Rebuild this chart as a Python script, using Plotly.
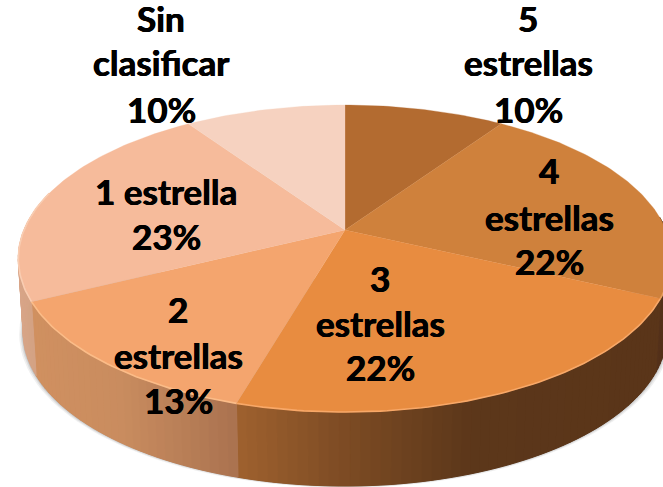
import math
import plotly.graph_objects as go

# Data
categories = ["5 estrellas", "4 estrellas", "3 estrellas", "2 estrellas", "1 estrella", "Sin clasificar"]
values = [9.5, 22.49, 22.49, 13.2, 22.8, 9.52]
percent_labels = ["10%", "22%", "22%", "13%", "23%", "10%"]
top_colors = ["#B36B30", "#CF813C", "#E88C40", "#F4A56E", "#F6BB9B", "#F6D2C0"]
# side shading: (x position, colour) stops per slice
side_stops = [
    [(0, "#5A3518"), (663, "#5A3518")],
    [(0, "#54311A"), (663, "#54311A")],
    [(232, "#A0622F"), (340, "#7E4C24"), (470, "#5C371A"), (663, "#5A3519")],
    [(32, "#D09060"), (120, "#C98C5F"), (232, "#AB7350")],
    [(18, "#D8A588"), (40, "#D0A080")],
    [(0, "#D8B09A"), (663, "#D8B09A")],
]
# label lines: (text, x, y)
label_lines = [
    ("Sin", 161, 20), ("clasificar", 161, 64), ("10%", 161, 111),
    ("5", 528, 20), ("estrellas", 528, 64), ("10%", 528, 111),
    ("4", 549, 172), ("estrellas", 549, 219), ("22%", 549, 263),
    ("3", 380, 280), ("estrellas", 380, 325), ("22%", 380, 369),
    ("2", 178, 311), ("estrellas", 178, 357), ("13%", 178, 402),
    ("1 estrella", 166, 193), ("23%", 166, 238),
]

# Projection of the pie's disc onto the page
CX, CY, B, A, K = 345, 230, 321, 148.2, 0.186
DEPTH, BOTTOM_SCALE = 74, 0.985


def rim(deg):
    t = math.radians(deg)
    u, v = math.sin(t), math.cos(t)
    w = 1 + K * v
    return CX + B * u / w, CY - A * v / w


def low(deg):
    x, y = rim(deg)
    return CX + (x - CX) * BOTTOM_SCALE, y + DEPTH


def hexrgb(c):
    return tuple(int(c[i:i + 2], 16) for i in (1, 3, 5))


def shade(stops, x):
    if x <= stops[0][0]:
        return stops[0][1]
    for (x0, c0), (x1, c1) in zip(stops, stops[1:]):
        if x <= x1:
            f = (x - x0) / (x1 - x0)
            a, b = hexrgb(c0), hexrgb(c1)
            return "#%02X%02X%02X" % tuple(round(p + (q - p) * f) for p, q in zip(a, b))
    return stops[-1][1]


total = sum(values)
edges = [0]
for val in values:
    edges.append(edges[-1] + val / total * 360)


def frange(a, b, step):
    n = max(1, int(abs(b - a) / step))
    return [a + (b - a) * i / n for i in range(n + 1)]


fig = go.Figure()


def poly(xs, ys, color, opacity=1.0, line=0.6):
    fig.add_trace(go.Scatter(
        x=xs, y=ys, mode="lines", fill="toself", fillcolor=color, opacity=opacity,
        line=dict(color=color, width=line), hoverinfo="skip", showlegend=False))


# soft shadow under the disc
for off, op in [(4, 0.10), (2.5, 0.15), (1.2, 0.25)]:
    angs = frange(85, 285, 2)
    xs, ys = [], []
    for d in angs:
        x, y = low(d)
        xs.append(CX + (x - CX) * (1 + off / 320))
        ys.append(y + off * 0.4)
    poly(xs, ys, "#707070", op, 0)

# side wall, front half only: a solid base per slice, then thin shaded strips
for i in range(6):
    a, b = edges[i], edges[i + 1]
    a, b = max(a, 85), min(b, 285)
    if a >= b:
        continue
    angs = frange(a, b, 1.5)
    tops = [rim(d) for d in angs]
    lows = [low(d) for d in reversed(angs)]
    ring = tops + lows + tops[:1]
    mid = shade(side_stops[i], rim((a + b) / 2)[0])
    poly([p[0] for p in ring], [p[1] for p in ring], mid, 1.0, 0)
    for d0, d1 in zip(angs, angs[1:]):
        p0, p1, q1, q0 = rim(d0), rim(d1), low(d1), low(d0)
        color = shade(side_stops[i], (p0[0] + p1[0]) / 2)
        poly([p0[0], p1[0], q1[0], q0[0], p0[0]], [p0[1], p1[1], q1[1], q0[1], p0[1]], color, 1.0, 1.0)

# top of the disc
for i in range(6):
    pts = [rim(d) for d in frange(edges[i], edges[i + 1], 1)]
    xs = [CX] + [p[0] for p in pts] + [CX]
    ys = [CY] + [p[1] for p in pts] + [CY]
    poly(xs, ys, top_colors[i], 1.0, 0.3)

# bright bevel on the front edge
for i in range(6):
    a, b = max(edges[i], 100), min(edges[i + 1], 285)
    if a >= b:
        continue
    pts = [rim(d) for d in frange(a, b, 1)]
    color = ["", "#E8A060", "#F8A868", "#FBBC88", "#F9CDB2", ""][i]
    fig.add_trace(go.Scatter(
        x=[p[0] for p in pts], y=[p[1] for p in pts], mode="lines",
        line=dict(color=color, width=1.6), hoverinfo="skip", showlegend=False))

for text, x, y in label_lines:
    fig.add_annotation(x=x, y=y, yshift=2, text=f"<b>{text}</b>", showarrow=False,
                       xanchor="center", yanchor="middle",
                       font=dict(family="Lato", size=35, color="#000000",
                                 shadow="0.4px 0 0 #000, -0.4px 0 0 #000"))

fig.update_layout(
    width=663, height=487, margin=dict(l=0, r=0, t=0, b=0),
    paper_bgcolor="white", plot_bgcolor="white", showlegend=False,
    xaxis=dict(range=[0, 663], visible=False, fixedrange=True),
    yaxis=dict(range=[487, 0], visible=False, fixedrange=True),
)
fig.write_html("out.html", config={"displayModeBar": False},
               post_script="document.body.style.margin='0';document.body.style.overflow='hidden';")
